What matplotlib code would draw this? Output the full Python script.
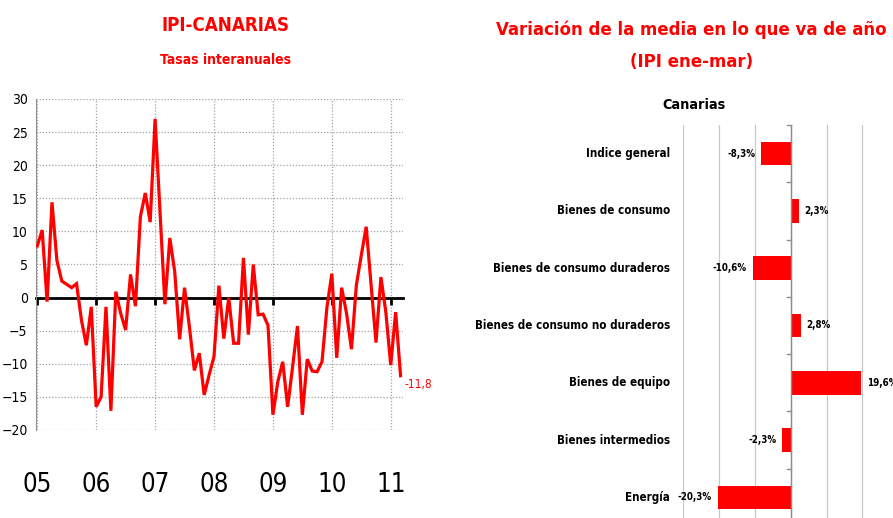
import numpy as np
import matplotlib
matplotlib.use("Agg")
from matplotlib import pyplot as plt
from matplotlib import transforms
from matplotlib import font_manager

# fuente estrecha si existe
nombres = {f.name for f in font_manager.fontManager.ttflist}
estrecha = [f for f in font_manager.fontManager.ttflist
            if f.name == 'DejaVu Sans' and 'ondensed' in f.fname]
if 'Liberation Sans Narrow' in nombres:
    plt.rcParams['font.family'] = ['Liberation Sans Narrow', 'DejaVu Sans']
    hay_estrecha = True
elif estrecha:
    plt.rcParams['font.family'] = ['DejaVu Sans']
    plt.rcParams['font.stretch'] = 'condensed'
    hay_estrecha = True
else:
    plt.rcParams['font.family'] = ['DejaVu Sans']
    hay_estrecha = False
k = 1.0 if hay_estrecha else 0.82  # factor de tamaño

# IPI Canarias, tasas interanuales (ene 2005 - mar 2011)
tasas = [7.8, 10.2, -0.6, 14.4, 5.6, 2.5, 2.0, 1.5, 2.1, -3.4, -7.2, -1.4,
         -16.5, -15.0, -1.4, -17.1, 0.9, -2.4, -4.9, 3.5, -1.3, 12.2, 15.8, 11.4,
         27.0, 13.0, -1.0, 9.0, 3.9, -6.3, 1.5, -4.5, -11.0, -8.4, -14.7, -11.7,
         -8.9, 1.8, -6.2, 0.0, -6.9, -6.9, 6.0, -5.6, 5.0, -2.6, -2.5, -4.2,
         -17.7, -12.7, -9.7, -16.5, -10.5, -4.3, -17.7, -9.3, -11.1, -11.2, -9.7, -1.5,
         3.6, -9.1, 1.5, -2.4, -7.8, 1.9, 6.4, 10.7, 1.9, -6.8, 3.1, -2.2,
         -10.2, -2.2, -11.8]
anios = ['05', '06', '07', '08', '09', '10', '11']

# variacion media ene-mar
categorias = ['Indice general', 'Bienes de consumo', 'Bienes de consumo duraderos',
              'Bienes de consumo no duraderos', 'Bienes de equipo',
              'Bienes intermedios', 'Energía']
variacion = [-8.3, 2.3, -10.6, 2.8, 19.6, -2.3, -20.3]

rojo = '#ff0000'

fig = plt.figure(figsize=(8.93, 5.18), dpi=100)

# ---- grafico de lineas ----
ax = fig.add_axes([0.0403, 0.1699, 0.4110, 0.6390])
x = np.arange(len(tasas))
ax.plot(x, tasas, color=rojo, lw=2.3, solid_joinstyle='miter', zorder=3)
ax.set_xlim(-0.26, 74.5)
ax.set_ylim(-20, 30)
ax.set_yticks(range(-20, 31, 5))
ax.set_xticks(range(0, 75, 12))
ax.grid(True, color='#a0a0a0', linestyle=(0, (1, 1.5)), lw=0.9)
for s in ['top', 'right']:
    ax.spines[s].set_visible(False)
ax.spines['left'].set_color('#909090')
ax.spines['bottom'].set_position(('data', 0))
ax.spines['bottom'].set_color('black')
ax.spines['bottom'].set_linewidth(2)
ax.spines['bottom'].set_zorder(2)
ax.tick_params(axis='x', direction='out', length=5, width=2, color='black', labelbottom=False)
ax.tick_params(axis='y', length=0, labelsize=10 * k, pad=6)

trans = transforms.blended_transform_factory(ax.transData, ax.transAxes)
for i, a in enumerate(anios):
    ax.text(i * 12, -0.165, a, transform=trans, ha='center', va='center', fontsize=18.5 * k)

ax.annotate('-11,8', (74, tasas[-1]), xytext=(3, -6), textcoords='offset points',
            color=rojo, fontsize=8.5 * k, ha='left', va='center')

fig.text(0.253, 0.951, 'IPI-CANARIAS', color=rojo, fontsize=13.5 * k, fontweight='bold',
         ha='center', va='center')
fig.text(0.253, 0.884, 'Tasas interanuales', color=rojo, fontsize=10 * k, fontweight='bold',
         ha='center', va='center')

# ---- grafico de barras ----
ax2 = fig.add_axes([0.7648, -0.0154, 0.2412, 0.7741])
ypos = np.arange(len(categorias))
ax2.barh(ypos, variacion, height=0.41, color=rojo, zorder=3)
ax2.set_xlim(-30, 30)
ax2.set_ylim(6.5, -0.5)
ax2.set_xticks(range(-30, 31, 10))
ax2.xaxis.grid(True, color='#c8c8c8', lw=0.9)
ax2.tick_params(axis='x', length=0, labelbottom=False)
ax2.set_yticks(ypos)
ax2.set_yticklabels([])
ax2.tick_params(axis='y', length=0)
for s in ax2.spines.values():
    s.set_visible(False)
ax2.axvline(0, color='#8c8c8c', lw=1, zorder=4)
for b in np.arange(-0.5, 6.6, 1):
    ax2.plot([-0.9, 0], [b, b], color='#8c8c8c', lw=1, zorder=4, clip_on=False)

for i, (c, v) in enumerate(zip(categorias, variacion)):
    ax2.text(-33.6, i, c, ha='right', va='center', fontsize=8.3 * k, fontweight='bold',
             clip_on=False)
    lab = f"{v:.1f}".replace('.', ',') + '%'
    if v < 0:
        ax2.text(v - 1.6, i, lab, ha='right', va='center', fontsize=7 * k, fontweight='bold')
    else:
        ax2.text(v + 1.6, i, lab, ha='left', va='center', fontsize=7 * k, fontweight='bold',
                 clip_on=False)

fig.text(0.774, 0.942, 'Variación de la media en lo que va de año', color=rojo,
         fontsize=13.3 * k, fontweight='bold', ha='center', va='center')
fig.text(0.774, 0.880, '(IPI ene-mar)', color=rojo, fontsize=13.3 * k, fontweight='bold',
         ha='center', va='center')
fig.text(0.777, 0.797, 'Canarias', color='black', fontsize=10.4 * k, fontweight='bold',
         ha='center', va='center')

fig.savefig('out.png', dpi=100)
